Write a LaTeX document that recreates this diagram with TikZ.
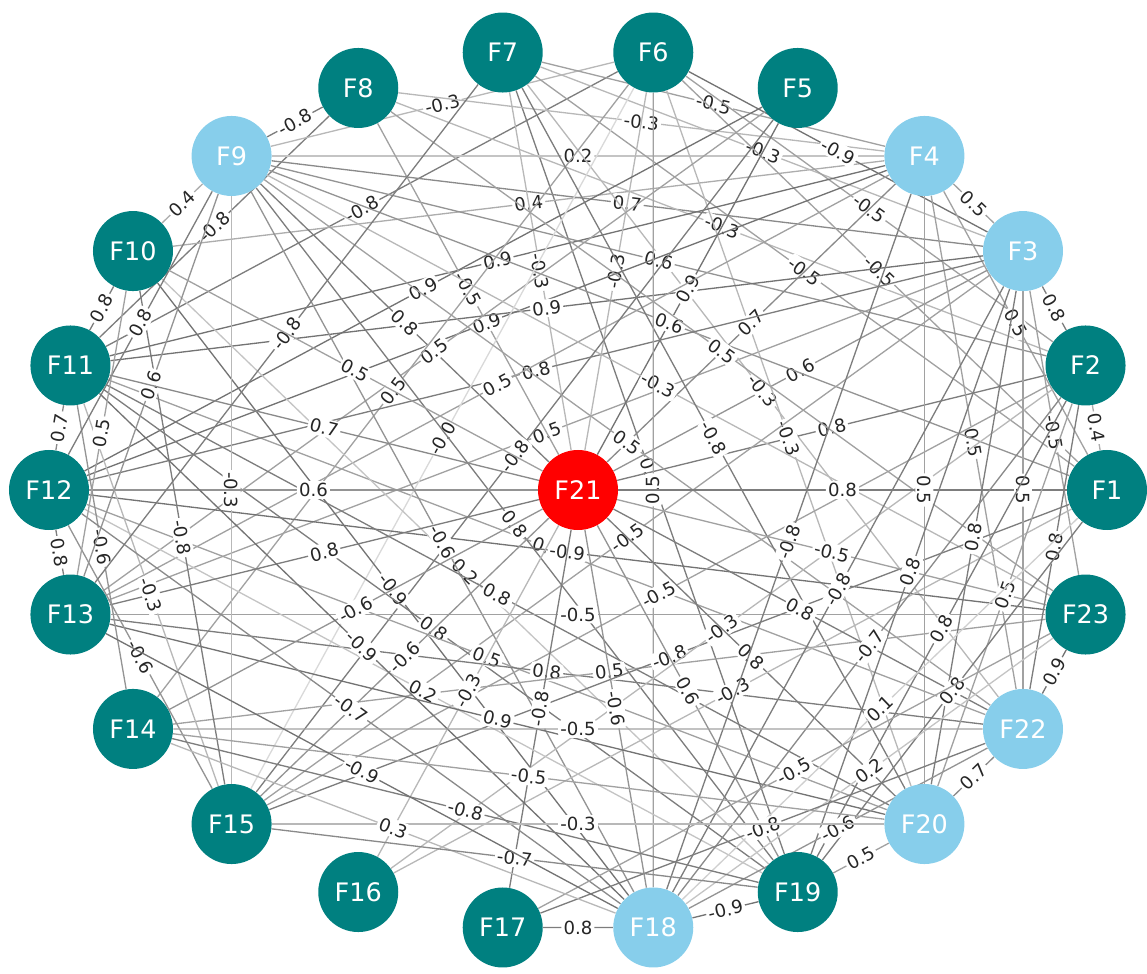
\documentclass[tikz,border=0pt]{standalone}
\usepackage{fontspec}
\setmainfont{DejaVu Sans}
\usetikzlibrary{backgrounds}
\definecolor{FeatTeal}{RGB}{0,128,128}
\definecolor{FeatSky}{RGB}{135,206,235}
\definecolor{FeatRed}{RGB}{255,0,0}

\begin{document}
\begin{tikzpicture}[
    feat/.style={circle, minimum size=1.6cm, inner sep=0pt, fill=FeatTeal, text=white,
      font=\fontsize{14.5}{16}\selectfont},
    corrlbl/.style={sloped, fill=white, rounded corners=2pt, inner sep=1.2pt, text=black!85,
      font=\fontsize{10.3}{12}\selectfont}
  ]
  \useasboundingbox (-11.56,-9.68) rectangle (11.38,9.8);
  % features on the outer ring
  \foreach \name/\k/\col in {F1/0/FeatTeal, F2/1/FeatTeal, F3/2/FeatSky, F4/3/FeatSky,
      F5/4/FeatTeal, F6/5/FeatTeal, F7/6/FeatTeal, F8/7/FeatTeal, F9/8/FeatSky,
      F10/9/FeatTeal, F11/10/FeatTeal, F12/11/FeatTeal, F13/12/FeatTeal, F14/13/FeatTeal,
      F15/14/FeatTeal, F16/15/FeatTeal, F17/16/FeatTeal, F18/17/FeatSky, F19/18/FeatTeal,
      F20/19/FeatSky, F22/20/FeatSky, F23/21/FeatTeal}
    \node[feat, fill=\col] (\name) at ({\k*360/22}:10.58cm and 8.84cm) {\name};
  \node[feat, fill=FeatRed] (F21) at (0,0) {F21};
  % correlations
  \begin{scope}[on background layer]
    \foreach \a/\b/\w in {F11/F22/0.5, F7/F19/0.8, F3/F13/0.5,
        F8/F9/-0.8, F9/F10/0.4, F8/F11/-0.8, F6/F11/-0.8, F6/F9/-0.3, F4/F9/0.2,
        F4/F8/-0.3, F4/F7/-0.5, F4/F10/0.4, F3/F9/0.7, F2/F8/-0.3, F3/F6/-0.9,
        F3/F7/-0.3, F2/F6/-0.5, F3/F4/0.5, F1/F7/-0.5, F1/F6/-0.5, F2/F3/0.8,
        F1/F4/0.5, F3/F21/0.6, F7/F22/-0.3, F2/F21/0.8, F6/F20/-0.3, F4/F22/0.5,
        F3/F23/-0.5, F1/F2/0.4, F4/F11/0.9, F7/F21/-0.3, F6/F21/-0.3, F2/F9/0.6,
        F5/F12/0.9, F8/F21/-0.5, F4/F12/0.9, F3/F11/0.9, F9/F21/0.8, F5/F21/0.9,
        F1/F9/0.6, F4/F21/0.7, F8/F23/0.5, F5/F13/0.5, F6/F14/0.5, F3/F12/0.8,
        F4/F13/0.5, F9/F23/-0.3, F6/F15/-0.0, F5/F15/-0.8, F9/F22/0.5, F7/F20/-0.8,
        F6/F18/0.5, F9/F19/0.8, F12/F23/-0.9, F3/F15/-0.5, F10/F19/0.2, F9/F18/-0.6,
        F11/F20/0.8, F13/F23/-0.5, F2/F15/-0.5, F10/F18/-0.9, F11/F19/0.8,
        F12/F20/0.5, F13/F22/0.8, F14/F23/0.5, F1/F15/-0.8, F2/F16/-0.3,
        F20/F21/0.8, F19/F21/0.6, F1/F16/-0.3, F18/F21/-0.6, F17/F21/-0.8,
        F16/F21/-0.3, F12/F19/0.2, F15/F21/-0.6, F13/F20/0.9, F9/F15/-0.3,
        F12/F21/0.6, F12/F13/0.8, F11/F14/-0.6, F10/F15/-0.8, F13/F21/0.8,
        F11/F15/-0.3, F14/F21/-0.6, F12/F15/-0.6, F11/F18/-0.9, F12/F18/-0.7,
        F10/F11/0.8, F9/F12/0.8, F9/F13/0.6, F11/F12/0.7, F10/F13/0.5, F7/F13/-0.8,
        F10/F21/0.5, F11/F21/0.7, F1/F21/0.8, F4/F20/0.5, F3/F22/0.5, F4/F18/-0.8,
        F21/F23/-0.5, F3/F20/0.8, F2/F22/0.8, F3/F18/-0.8, F21/F22/0.8, F3/F19/0.8,
        F2/F20/0.5, F2/F18/-0.7, F2/F19/0.8, F1/F19/0.8, F1/F18/0.1, F22/F23/0.9,
        F17/F23/-0.5, F18/F23/0.2, F20/F22/0.7, F17/F22/-0.8, F18/F22/-0.6,
        F19/F20/0.5, F14/F22/-0.5, F14/F20/-0.5, F14/F19/-0.8, F15/F20/-0.3,
        F14/F18/0.3, F15/F19/-0.7, F17/F18/0.8, F18/F19/-0.9, F13/F18/-0.9}{
      \pgfmathtruncatemacro\shade{15+45*abs(\w)}
      \draw[line width=0.75pt, draw=black!\shade] (\a) -- node[corrlbl] {\w} (\b);
    }
  \end{scope}
\end{tikzpicture}
\end{document}
